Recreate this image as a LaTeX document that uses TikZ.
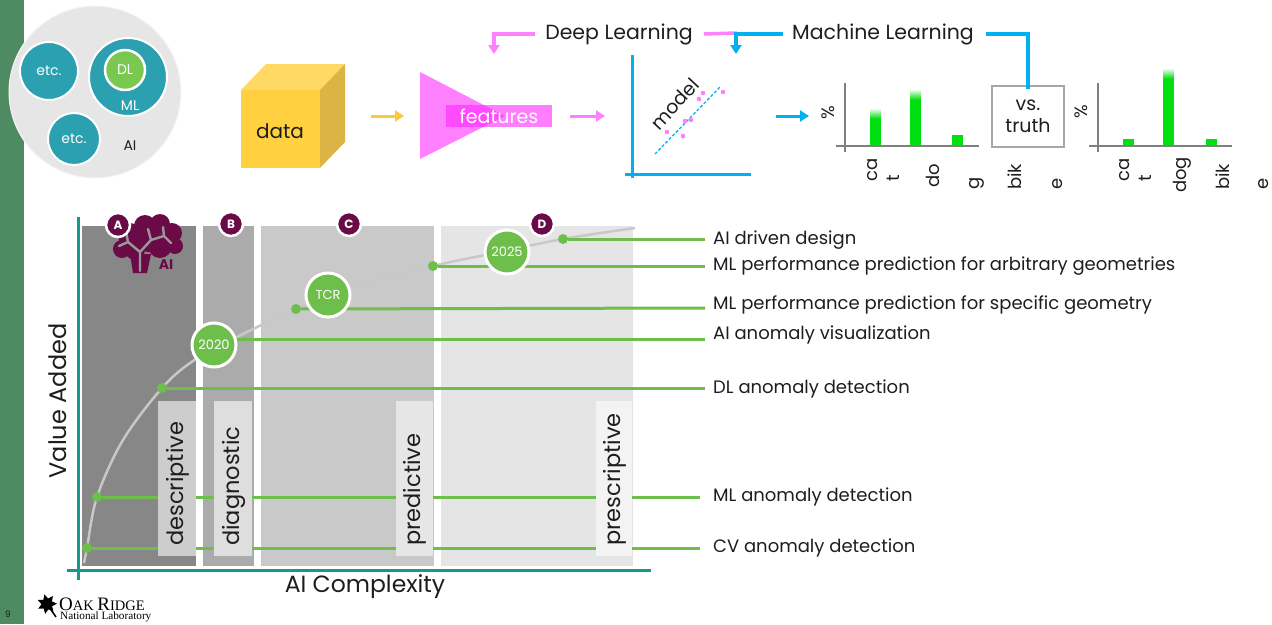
\documentclass[tikz,border=0pt]{standalone}
\usepackage{fontspec}
\setmainfont{Poppins}
\newfontfamily\labfont{Liberation Serif}
\usetikzlibrary{arrows.meta,shapes.geometric,calc}

\definecolor{sidebar}{RGB}{78,138,98}
\definecolor{venngrey}{RGB}{230,230,230}
\definecolor{teal}{RGB}{43,160,176}
\definecolor{dlgreen}{RGB}{122,200,80}
\definecolor{cubefront}{RGB}{255,208,64}
\definecolor{cubetop}{RGB}{255,217,100}
\definecolor{cubeside}{RGB}{220,180,70}
\definecolor{arrowyellow}{RGB}{255,200,60}
\definecolor{pinkc}{RGB}{255,128,255}
\definecolor{pinkrect}{RGB}{255,40,255}
\definecolor{bluec}{RGB}{0,176,240}
\definecolor{bargreen}{RGB}{0,224,16}
\definecolor{axisgrey}{RGB}{128,128,128}
\definecolor{axisteal}{RGB}{22,152,138}
\definecolor{colA}{RGB}{135,135,135}
\definecolor{colB}{RGB}{171,171,171}
\definecolor{colC}{RGB}{201,201,201}
\definecolor{colD}{RGB}{229,229,229}
\definecolor{boxA}{RGB}{205,205,205}
\definecolor{boxB}{RGB}{222,222,222}
\definecolor{boxC}{RGB}{230,230,230}
\definecolor{boxD}{RGB}{243,243,243}
\definecolor{maroon}{RGB}{106,11,71}
\definecolor{linegreen}{RGB}{110,190,75}
\definecolor{curvegrey}{RGB}{200,200,200}
\definecolor{txt}{RGB}{30,30,30}

\tikzset{
  lbl/.style={font=\fontsize{20}{24}\selectfont, text=txt, inner sep=0pt},
  bigarrow/.style={line width=3pt, -{Triangle[length=9pt,width=11pt]}},
  tick/.style={font=\fontsize{18}{18}\selectfont, text=txt, rotate=90, inner sep=0pt},
  chartaxis/.style={draw=axisgrey, line width=2.5pt},
  stage/.style={circle, fill=maroon, draw=white, line width=2.5pt, minimum size=24pt,
    inner sep=0pt, text=white, font=\bfseries\fontsize{12}{12}\selectfont},
  milestone/.style={circle, fill=linegreen, draw=white, line width=3pt, minimum size=44pt,
    inner sep=0pt, text=white, font=\fontsize{13}{13}\selectfont},
  dot/.style={circle, fill=linegreen, inner sep=0pt, minimum size=10pt},
  gline/.style={draw=linegreen, line width=3pt},
  usecase/.style={font=\fontsize{18}{20}\selectfont, text=txt, anchor=west, inner sep=0pt},
  phase/.style={rotate=90, anchor=west, font=\fontsize{22.5}{22.5}\selectfont, text=txt, inner sep=0pt},
  vennc/.style={circle, fill=teal, draw=white, line width=2pt, inner sep=0pt,
    text=white, font=\fontsize{14}{14}\selectfont},
}

% bar with a short fade at its top
\newcommand{\greenbar}[3]{% x-left, top, bottom
  \fill[bargreen] (#1,#2+10) rectangle (#1+10.5,#3);
  \shade[top color=white, bottom color=bargreen] (#1,#2) rectangle (#1+10.5,#2+10.5);
}
% short solid bar
\newcommand{\flatbar}[3]{%
  \fill[bargreen] (#1,#2) rectangle (#1+10.5,#3);
}

\begin{document}
\begin{tikzpicture}[x=1pt,y=-1pt]
\useasboundingbox (0,0) rectangle (1272,624);
\fill[white] (0,0) rectangle (1272,624);

% side bar and page number
\fill[sidebar] (0,0) rectangle (24,624);
\node[font=\fontsize{9}{9}\selectfont, text=txt] (page) at (8,614) {9};

% ---------- AI / ML / DL sets ----------
\node[circle, fill=venngrey, draw=white!96!black, line width=1pt, minimum size=172pt] (ai) at (95,92) {};
\node[vennc, minimum size=58pt] (etc1) at (49,71) {etc.};
\node[vennc, minimum size=52pt] (etc2) at (74,139) {etc.};
\node[vennc, minimum size=78pt] (ml) at (128,77) {};
\node[font=\fontsize{14}{14}\selectfont, text=white] (mltxt) at (130,106) {ML};
\node[vennc, fill=dlgreen, minimum size=40pt, line width=2.5pt] (dlc) at (125,70) {DL};
\node[font=\fontsize{14}{14}\selectfont, text=txt] (aitxt) at (130,146) {AI};

% ---------- pipeline ----------
\fill[cubetop] (241,90) -- (266,64) -- (345,64) -- (320,90) -- cycle;
\fill[cubeside] (320,90) -- (345,64) -- (345,142) -- (320,168) -- cycle;
\fill[cubefront] (241,90) rectangle (320,168);
\node[lbl] (data) at (280,131) {data};
\coordinate (dataout) at (371,116);

\fill[pinkc] (420,72) -- (505,116) -- (420,159) -- cycle;
\node[fill=pinkrect, fill opacity=0.6, text opacity=1, minimum width=106pt, minimum height=22pt,
  inner sep=0pt, text=white, font=\fontsize{19}{19}\selectfont] (feat) at (499,116) {features};
\coordinate (featin) at (404,116);
\coordinate (featout) at (570,116);
\coordinate (modelin) at (605,116);
\draw[bigarrow, arrowyellow] (dataout) -- (featin);
\draw[bigarrow, pinkc] (featout) -- (modelin);

% model plot
\draw[bluec, line width=3pt] (632,55) -- (632,178);
\draw[bluec, line width=3pt] (625,174) -- (751,174);
\draw[bluec, line width=1.3pt, dash pattern=on 3pt off 2pt] (655,154) -- (721,86);
\foreach \p in {(667,132),(683,136),(685,121),(691,120),(699,99),(703,93),(723,92)}
  \fill[pinkc] \p circle (2.3);
\node[lbl, rotate=47, font=\fontsize{19}{19}\selectfont] (model) at (675,104) {model};
\coordinate (modelout) at (776,116);
\coordinate (predin) at (809,116);
\draw[bigarrow, bluec] (modelout) -- (predin);

% feedback labels
\node[lbl, font=\fontsize{20.5}{24}\selectfont] (dl) at (619,34) {Deep Learning};
\node[lbl, font=\fontsize{20.5}{24}\selectfont] (mlab) at (883,34) {Machine Learning};
\coordinate (dlend) at (494,54);
\coordinate (mlend) at (736,54);
\draw[pinkc, line width=3.5pt, -{Triangle[length=9pt,width=11pt]}]
  ([xshift=-10pt]dl.west) -| (dlend);
\draw[pinkc, line width=3.5pt] ([xshift=11pt]dl.east) -- (737,33);
\draw[bluec, line width=3.5pt, -{Triangle[length=9pt,width=11pt]}]
  ([xshift=-9pt]mlab.west) -| (mlend);

% prediction chart
\draw[chartaxis] (845,83) -- (845,152);
\draw[chartaxis] (836,146) -- (979,146);
\greenbar{870}{108}{145}
\greenbar{910}{89}{145}
\flatbar{952}{135}{145}
\node[tick] (pc1) at (828,113) {\%};
\node[tick] (t1) at (873,170) {ca};
\node[tick] (t2) at (893,178) {t};
\node[tick] (t3) at (933,176) {do};
\node[tick] (t4) at (977,183) {g};
\node[tick] (t5) at (1015,177) {bik};
\node[tick] (t6) at (1058,184) {e};

% comparison box
\node[draw=gray!70, line width=1.2pt, fill=white, minimum width=72pt, minimum height=61pt,
  inner sep=0pt, align=center, font=\fontsize{19}{22}\selectfont, text=txt] (vs) at (1028,116.5) {vs.\\truth};
\draw[bluec, line width=3.5pt] ([xshift=12pt]mlab.east) -| ([yshift=-4pt]vs.north);

% truth chart
\draw[chartaxis] (1098,83) -- (1098,152);
\draw[chartaxis] (1089,146) -- (1232,146);
\flatbar{1123}{139}{145}
\greenbar{1163}{68}{145}
\flatbar{1206}{139}{145}
\node[tick] (pc2) at (1081,112) {\%};
\node[tick] (u1) at (1125,170) {ca};
\node[tick] (u2) at (1145,178) {t};
\node[tick] (u3) at (1182,175) {dog};
\node[tick] (u4) at (1223,177) {bik};
\node[tick] (u5) at (1264,184) {e};

% ---------- value vs complexity ----------
\fill[colA] (82,226) rectangle (196,566);
\fill[colB] (203,226) rectangle (254,566);
\fill[colC] (261,226) rectangle (434,566);
\fill[colD] (441,226) rectangle (633,566);

% axes
\draw[axisteal, line width=3pt] (78,217) -- (78,580);
\draw[axisteal, line width=3pt] (67,570) -- (651,570);
\node[font=\fontsize{24}{24}\selectfont, text=txt, rotate=90] (yax) at (58,401) {Value Added};
\node[font=\fontsize{23.5}{24}\selectfont, text=txt] (xax) at (365,587) {AI Complexity};

% growth curve
\draw[curvegrey, line width=2.5pt] plot[smooth, tension=0.55] coordinates
  {(84,563) (87,548) (97,497) (123,440) (162,388) (193,361) (237,337) (296,309)
   (350,288) (433,266) (490,254) (563,239) (635,228)};

% use-case points and leaders
\node[dot] (p1) at (87,548) {};
\node[dot] (p2) at (97,497) {};
\node[dot] (p3) at (162,388) {};
\node[dot] (p5) at (296,309) {};
\node[dot] (p6) at (433,266) {};
\node[dot] (p7) at (563,239) {};

\node[usecase] (c7) at (713,240) {AI driven design};
\node[usecase] (c6) at (713,266) {ML performance prediction for arbitrary geometries};
\node[usecase] (c5) at (713,305) {ML performance prediction for specific geometry};
\node[usecase] (c4) at (713,335) {AI anomaly visualization};
\node[usecase] (c3) at (713,389) {DL anomaly detection};
\node[usecase] (c2) at (713,497) {ML anomaly detection};
\node[usecase] (c1) at (713,548) {CV anomaly detection};

\draw[gline] (p1) -- (700,548);
\draw[gline] (p2) -- (700,497);
\draw[gline] (p3) -- (705,388);
\draw[gline] (p5) -- (705,308);
\draw[gline] (p6) -- (705,266);
\draw[gline] (p7) -- (705,239);
\coordinate (m4) at (214,339);
\draw[gline] (m4) -- (705,339);

% phase label boxes, over the leaders
\fill[boxA] (158,401) rectangle (196,556);
\fill[boxB] (214,401) rectangle (252,556);
\fill[boxC] (396,401) rectangle (433,556);
\fill[boxD] (596,401) rectangle (632,556);
\node[phase] (ph1) at (178,546) {descriptive};
\node[phase] (ph2) at (234,546) {diagnostic};
\node[phase] (ph3) at (415,546) {predictive};
\node[phase] (ph4) at (615,546) {prescriptive};

% milestones
\node[milestone] (m2020) at (214,345) {2020};
\node[milestone] (mtcr) at (328,295) {TCR};
\node[milestone] (m2025) at (507,252) {2025};

% AI brain
\begin{scope}[maroon]
  \fill (130,235) circle (12) (145,226) circle (11) (160,224) circle (10) (172,233) circle (10)
        (175,246) circle (8) (122,249) circle (9) (135,250) circle (10) (160,246) circle (12)
        (148,240) circle (12);
  \fill (130,254) -- (151,254) -- (147,273) -- (133,273) -- cycle;
\end{scope}
\draw[gray!80, line width=2.4pt, line cap=round, line join=round]
  (140,271) -- (140,252) -- (128,242) -- (126,232)
  (140,252) -- (151,240) -- (164,236) -- (171,243)
  (151,240) -- (148,229)
  (164,236) -- (163,227)
  (128,242) -- (119,246);
\node[font=\bfseries\fontsize{14}{14}\selectfont, text=maroon] (aibr) at (166,265) {AI};

\node[stage] (sA) at (118,225) {A};
\node[stage] (sB) at (231,224) {B};
\node[stage] (sC) at (349,224) {C};
\node[stage] (sD) at (542,224) {D};

% laboratory mark
\node[star, star points=7, star point ratio=1.8, fill=black, minimum size=20pt, inner sep=0pt,
  rotate=15] (leaf) at (47,604) {};
\draw[black, line width=1.5pt] (leaf.center) -- (56,617);
\node[anchor=south west, inner sep=0pt, text=black] (orl) at (59,610.5)
  {\labfont{\fontsize{19}{19}\selectfont O}{\fontsize{14.5}{14.5}\selectfont AK }{\fontsize{19}{19}\selectfont R}{\fontsize{14.5}{14.5}\selectfont IDGE}};
\node[anchor=north west, inner sep=0pt, text=black, font=\labfont\fontsize{11.2}{12}\selectfont] (nl) at (60,611.5) {National Laboratory};
\end{tikzpicture}
\end{document}
